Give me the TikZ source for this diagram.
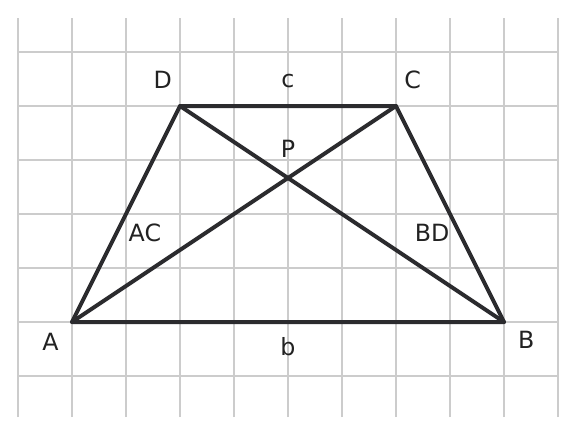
\documentclass[tikz,border=0pt]{standalone}
\usepackage{fontspec}
\setmainfont{DejaVu Sans}
\usepackage{tikz}
\usetikzlibrary{positioning}

\definecolor{gridgray}{HTML}{CCCCCC}
\definecolor{edgedark}{HTML}{2B2B2E}
\definecolor{labeldark}{HTML}{222222}

\begin{document}
\begin{tikzpicture}[x=1cm,y=1cm,
    edge/.style={draw=edgedark,line width=2.1pt,line cap=round,line join=round},
    lbl/.style={text=labeldark,font=\fontsize{12.5pt}{15pt}\selectfont,inner sep=0pt}]
    \useasboundingbox (-1.333,-2.093) rectangle (9.333,5.963);
    % Grid
    \foreach \i in {-1,...,9} {
        \draw[gridgray,line width=0.7pt] (\i,-1.76) -- (\i,5.63);
    }
    \foreach \j in {-1,...,5} {
        \draw[gridgray,line width=0.7pt] (-1,\j) -- (9,\j);
    }
    % Trapezoid vertices
    \coordinate (A) at (0,0);
    \coordinate (B) at (8,0);
    \coordinate (C) at (6,4);
    \coordinate (D) at (2,4);
    \draw[edge] (A) -- (B) -- (C) -- (D) -- cycle;
    \draw[edge] (A) -- (C);
    \draw[edge] (B) -- (D);
    % Labels
    \node[lbl] (labA) at (-0.4,-0.36) {A};
    \node[lbl] (labB) at (8.41,-0.33) {B};
    \node[lbl] (labC) at (6.31,4.49) {C};
    \node[lbl] (labD) at (1.68,4.49) {D};
    \node[lbl] (labP) at (4,3.2) {P};
    \node[lbl] (labc) at (4,4.47) {c};
    \node[lbl] (labb) at (4,-0.46) {b};
    \node[lbl] (labAC) at (1.35,1.65) {AC};
    \node[lbl] (labBD) at (6.67,1.65) {BD};
\end{tikzpicture}
\end{document}
